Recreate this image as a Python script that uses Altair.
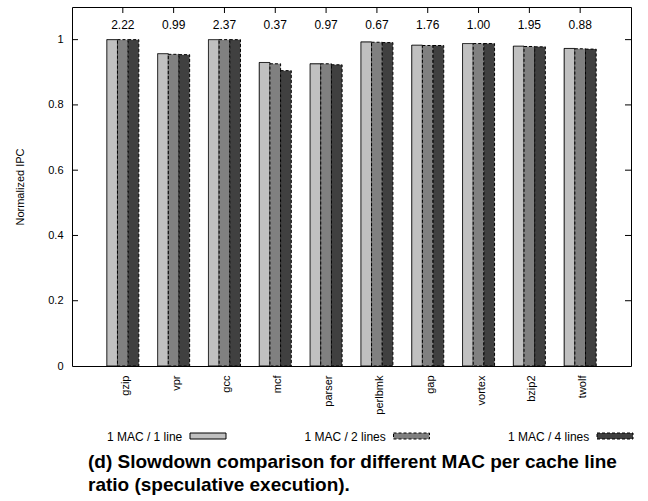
import altair as alt
import pandas as pd

benches = ["gzip", "vpr", "gcc", "mcf", "parser", "perlbmk", "gap", "vortex", "bzip2", "twolf"]
series = ["1 MAC / 1 line", "1 MAC / 2 lines", "1 MAC / 4 lines"]
v1 = [1.000, 0.957, 1.000, 0.930, 0.926, 0.993, 0.983, 0.988, 0.980, 0.973]
v2 = [1.000, 0.955, 1.000, 0.926, 0.926, 0.992, 0.982, 0.988, 0.979, 0.972]
v4 = [1.000, 0.954, 1.000, 0.905, 0.923, 0.991, 0.982, 0.988, 0.978, 0.971]
top_labels = ["2.22", "0.99", "2.37", "0.37", "0.97", "0.67", "1.76", "1.00", "1.95", "0.88"]
y_ticks = [0.2, 0.4, 0.6, 0.8, 1.0]
colors = ["#c0c0c0", "#808080", "#404040"]

FONT = "Liberation Sans"
W, H = 559, 359

rows = []
for vals, s in zip([v1, v2, v4], series):
    for b, v in zip(benches, vals):
        rows.append({"bench": b, "series": s, "value": v})
df = pd.DataFrame(rows)
df_lab = pd.DataFrame({"bench": benches, "label": top_labels})
df_ticks = pd.DataFrame({"t": y_ticks})
df_leg = pd.DataFrame({"series": series})

yscale = alt.Scale(domain=[0, 1.1], nice=False, zero=True)
yaxis = alt.Axis(title="Normalized IPC", values=[0, 0.2, 0.4, 0.6, 0.8, 1.0],
                 labelExpr="datum.value == 0 ? '0' : datum.value == 1 ? '1' : format(datum.value, '.1f')",
                 ticks=False, domain=False, grid=False,
                 labelFont=FONT, labelFontSize=11, labelColor="black",
                 labelPadding=9, titleFont=FONT, titleFontSize=11,
                 titleFontWeight="normal", titleColor="black", titlePadding=22)


def xband():
    return alt.Scale(type="band", domain=benches, paddingInner=0.37, paddingOuter=0.685)


def xpoint():
    return alt.Scale(type="point", domain=benches, padding=1)


color = alt.Color("series:N", scale=alt.Scale(domain=series, range=colors), legend=None)
dash = alt.StrokeDash("series:N",
                      scale=alt.Scale(domain=series, range=[[1, 0], [3, 2], [3, 2]]),
                      legend=None)

bars = alt.Chart(df).mark_bar(stroke="black", strokeWidth=1).encode(
    x=alt.X("bench:N", sort=benches, scale=xband(),
            axis=alt.Axis(title=None, labelAngle=-90, ticks=False, domain=False,
                          labelFont=FONT, labelFontSize=11, labelColor="black",
                          labelPadding=9, labelOffset=3)),
    xOffset=alt.XOffset("series:N", sort=series,
                        scale=alt.Scale(domain=series, paddingInner=0, paddingOuter=0)),
    y=alt.Y("value:Q", scale=yscale, axis=yaxis),
    color=color,
    strokeDash=dash,
)

labels = alt.Chart(df_lab).mark_text(font=FONT, fontSize=12, color="black",
                                     baseline="middle").encode(
    x=alt.X("bench:N", sort=benches, scale=xpoint(), axis=None),
    y=alt.YDatum(1.045, scale=yscale, axis=yaxis),
    text="label:N",
)

top_ticks = alt.Chart(df_lab).mark_rule(color="black", strokeWidth=1).encode(
    x=alt.X("bench:N", sort=benches, scale=xpoint(), axis=None),
    y=alt.value(0),
    y2=alt.value(6),
)

left_ticks = alt.Chart(df_ticks).mark_rule(color="black", strokeWidth=1).encode(
    y=alt.Y("t:Q", scale=yscale, axis=yaxis),
    x=alt.value(0),
    x2=alt.value(6),
)
right_ticks = alt.Chart(df_ticks).mark_rule(color="black", strokeWidth=1).encode(
    y=alt.Y("t:Q", scale=yscale, axis=yaxis),
    x=alt.value(W - 6),
    x2=alt.value(W),
)

leg_text = alt.Chart(df_leg).mark_text(font=FONT, fontSize=12, color="black", align="right",
                                       baseline="middle", dx=58).encode(
    x=alt.X("series:N", sort=series,
            scale=alt.Scale(type="point", domain=series, range=[-49.5, 561], padding=0.5),
            axis=None),
    y=alt.value(430),
    text="series:N",
)
leg_swatch = alt.Chart(df_leg).mark_bar(size=36, xOffset=83.75, stroke="black",
                                        strokeWidth=1).encode(
    x=alt.X("series:N", sort=series,
            scale=alt.Scale(type="band", domain=series, range=[-49.5, 561],
                            paddingInner=0, paddingOuter=0),
            axis=None),
    y=alt.value(426),
    y2=alt.value(432),
    color=color,
    strokeDash=dash,
)

chart = alt.layer(bars, labels, top_ticks, left_ticks, right_ticks, leg_text, leg_swatch).resolve_scale(
    x="independent"
).properties(
    width=W,
    height=H,
    autosize=alt.AutoSizeParams(type="none"),
    padding={"left": 72, "top": 7, "right": 17, "bottom": 135},
    title=alt.TitleParams(
        text=["(d) Slowdown comparison for different MAC per cache line",
              "ratio (speculative execution)."],
        orient="bottom", anchor="start", frame="group", dx=16, offset=10,
        font=FONT, fontSize=19, fontWeight="bold", color="black", lineHeight=23,
    ),
).configure(background="white").configure_view(stroke="black", strokeWidth=1)

chart.save("out.html", embed_options={"renderer": "svg", "actions": False})
